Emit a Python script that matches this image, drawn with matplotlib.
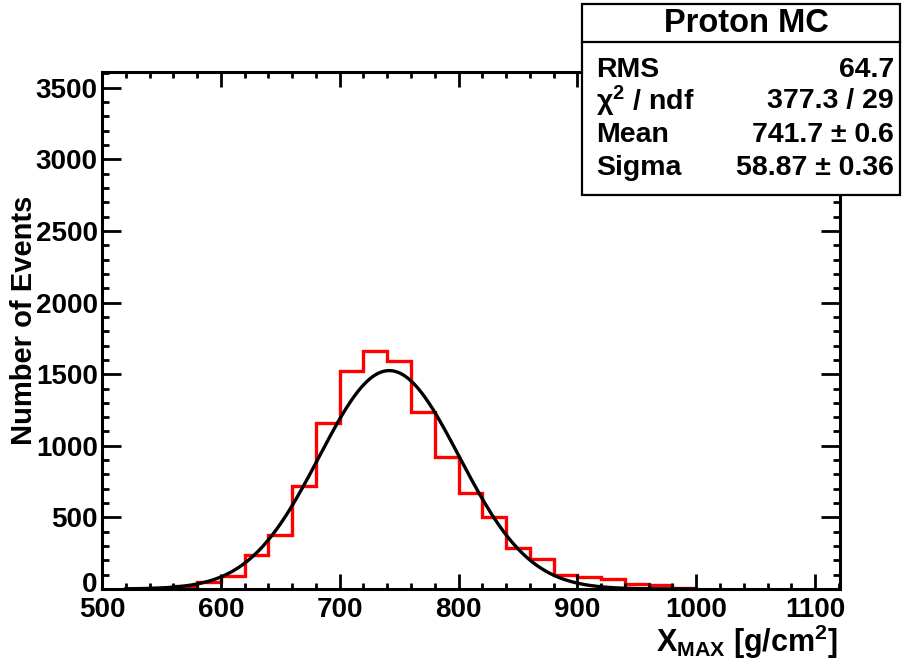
import numpy as np
import matplotlib
matplotlib.use("Agg")
import matplotlib.pyplot as plt
from matplotlib.ticker import MultipleLocator
from matplotlib.patches import Rectangle
from matplotlib.transforms import ScaledTranslation

plt.rcParams['font.family'] = ['Liberation Sans', 'DejaVu Sans']
plt.rcParams['font.weight'] = 'bold'
plt.rcParams['mathtext.fontset'] = 'custom'
plt.rcParams['mathtext.rm'] = 'Liberation Sans:bold'
plt.rcParams['mathtext.it'] = 'Liberation Sans:bold'
plt.rcParams['mathtext.bf'] = 'Liberation Sans:bold'

# ---- data ----
bin_edges = [520, 540, 560, 580, 600, 620, 640, 660, 680, 700, 720, 740, 760,
             780, 800, 820, 840, 860, 880, 900, 920, 940, 960, 980, 1000]
bin_counts = [3, 8, 22, 48, 94, 234, 374, 717, 1157, 1523, 1663, 1591, 1236,
              925, 670, 502, 288, 211, 101, 85, 70, 35, 28, 5]

fit_amplitude = 1525.0
fit_mean = 741.7
fit_sigma = 58.87
fit_range = (520, 1000)

stats_title = "Proton MC"
stats_names = ["RMS", "χ$^2$ / ndf", "Mean", "Sigma"]
stats_values = ["64.7", "377.3 / 29", "741.7 ± 0.6", "58.87 ± 0.36"]

xticks = [500, 600, 700, 800, 900, 1000, 1100]
yticks = [0, 500, 1000, 1500, 2000, 2500, 3000, 3500]

# ---- figure ----
W, H = 902, 665
fig = plt.figure(figsize=(W / 100, H / 100), dpi=100)
ax = fig.add_axes([102 / W, 1 - 589 / H, (840 - 102) / W, (589 - 72) / H])

ax.stairs(bin_counts, bin_edges, color='#ff0000', linewidth=2.4, baseline=None)
xf = np.linspace(fit_range[0], fit_range[1], 500)
yf = fit_amplitude * np.exp(-0.5 * ((xf - fit_mean) / fit_sigma) ** 2)
ax.plot(xf, yf, color='black', linewidth=2.4)

ax.set_xlim(500, 1121)
ax.set_ylim(0, 3610)
ax.set_xticks(xticks)
ax.set_yticks(yticks)
ax.xaxis.set_minor_locator(MultipleLocator(20))
ax.yaxis.set_minor_locator(MultipleLocator(100))
ax.tick_params(which='both', direction='in', top=True, right=True, width=2.0)
ax.tick_params(axis='x', which='major', length=11, labelsize=20, pad=6)
ax.tick_params(axis='x', which='minor', length=4.5)
ax.tick_params(axis='y', which='major', length=13.5, labelsize=20, pad=3)
ax.tick_params(axis='y', which='minor', length=5)
for s in ax.spines.values():
    s.set_linewidth(2.2)
for lab in ax.get_xticklabels() + ax.get_yticklabels():
    lab.set_fontweight('bold')
# nudge the "0" label up slightly so it clears the "500" label
zero_lab = ax.yaxis.get_major_ticks()[0].label1
zero_lab.set_transform(zero_lab.get_transform() +
                       ScaledTranslation(0, 7 / 100, fig.dpi_scale_trans))

ax.set_ylabel("Number of Events", fontsize=21, fontweight='bold')
ax.yaxis.set_label_coords(-0.087, 0.52)
fig.text(838 / W, 1 - 652 / H, r"$X_{MAX}$ [g/cm$^2$]", fontsize=22,
         fontweight='bold', ha='right', va='baseline')

# ---- stats box ----
bx0, by0, bx1, by1 = 582, 4, 900, 195
fig.add_artist(Rectangle((bx0 / W, 1 - by1 / H), (bx1 - bx0) / W, (by1 - by0) / H,
                         transform=fig.transFigure, facecolor='white',
                         edgecolor='black', linewidth=1.6, zorder=5))
fig.add_artist(plt.Line2D([bx0 / W, bx1 / W], [1 - 42 / H, 1 - 42 / H],
                          transform=fig.transFigure, color='black',
                          linewidth=1.6, zorder=6))
fig.text((bx0 + bx1) / 2 / W + 0.006, 1 - 24 / H, stats_title, fontsize=23.5,
         fontweight='bold', ha='center', va='center', zorder=7)
row_y = [70, 101, 135, 168]
for yy, nm, vl in zip(row_y, stats_names, stats_values):
    fig.text(596 / W, 1 - yy / H, nm, fontsize=20.5, fontweight='bold',
             ha='left', va='center', zorder=7)
    fig.text(894 / W, 1 - yy / H, vl, fontsize=20.5, fontweight='bold',
             ha='right', va='center', zorder=7)

fig.savefig("out.png", dpi=100)
